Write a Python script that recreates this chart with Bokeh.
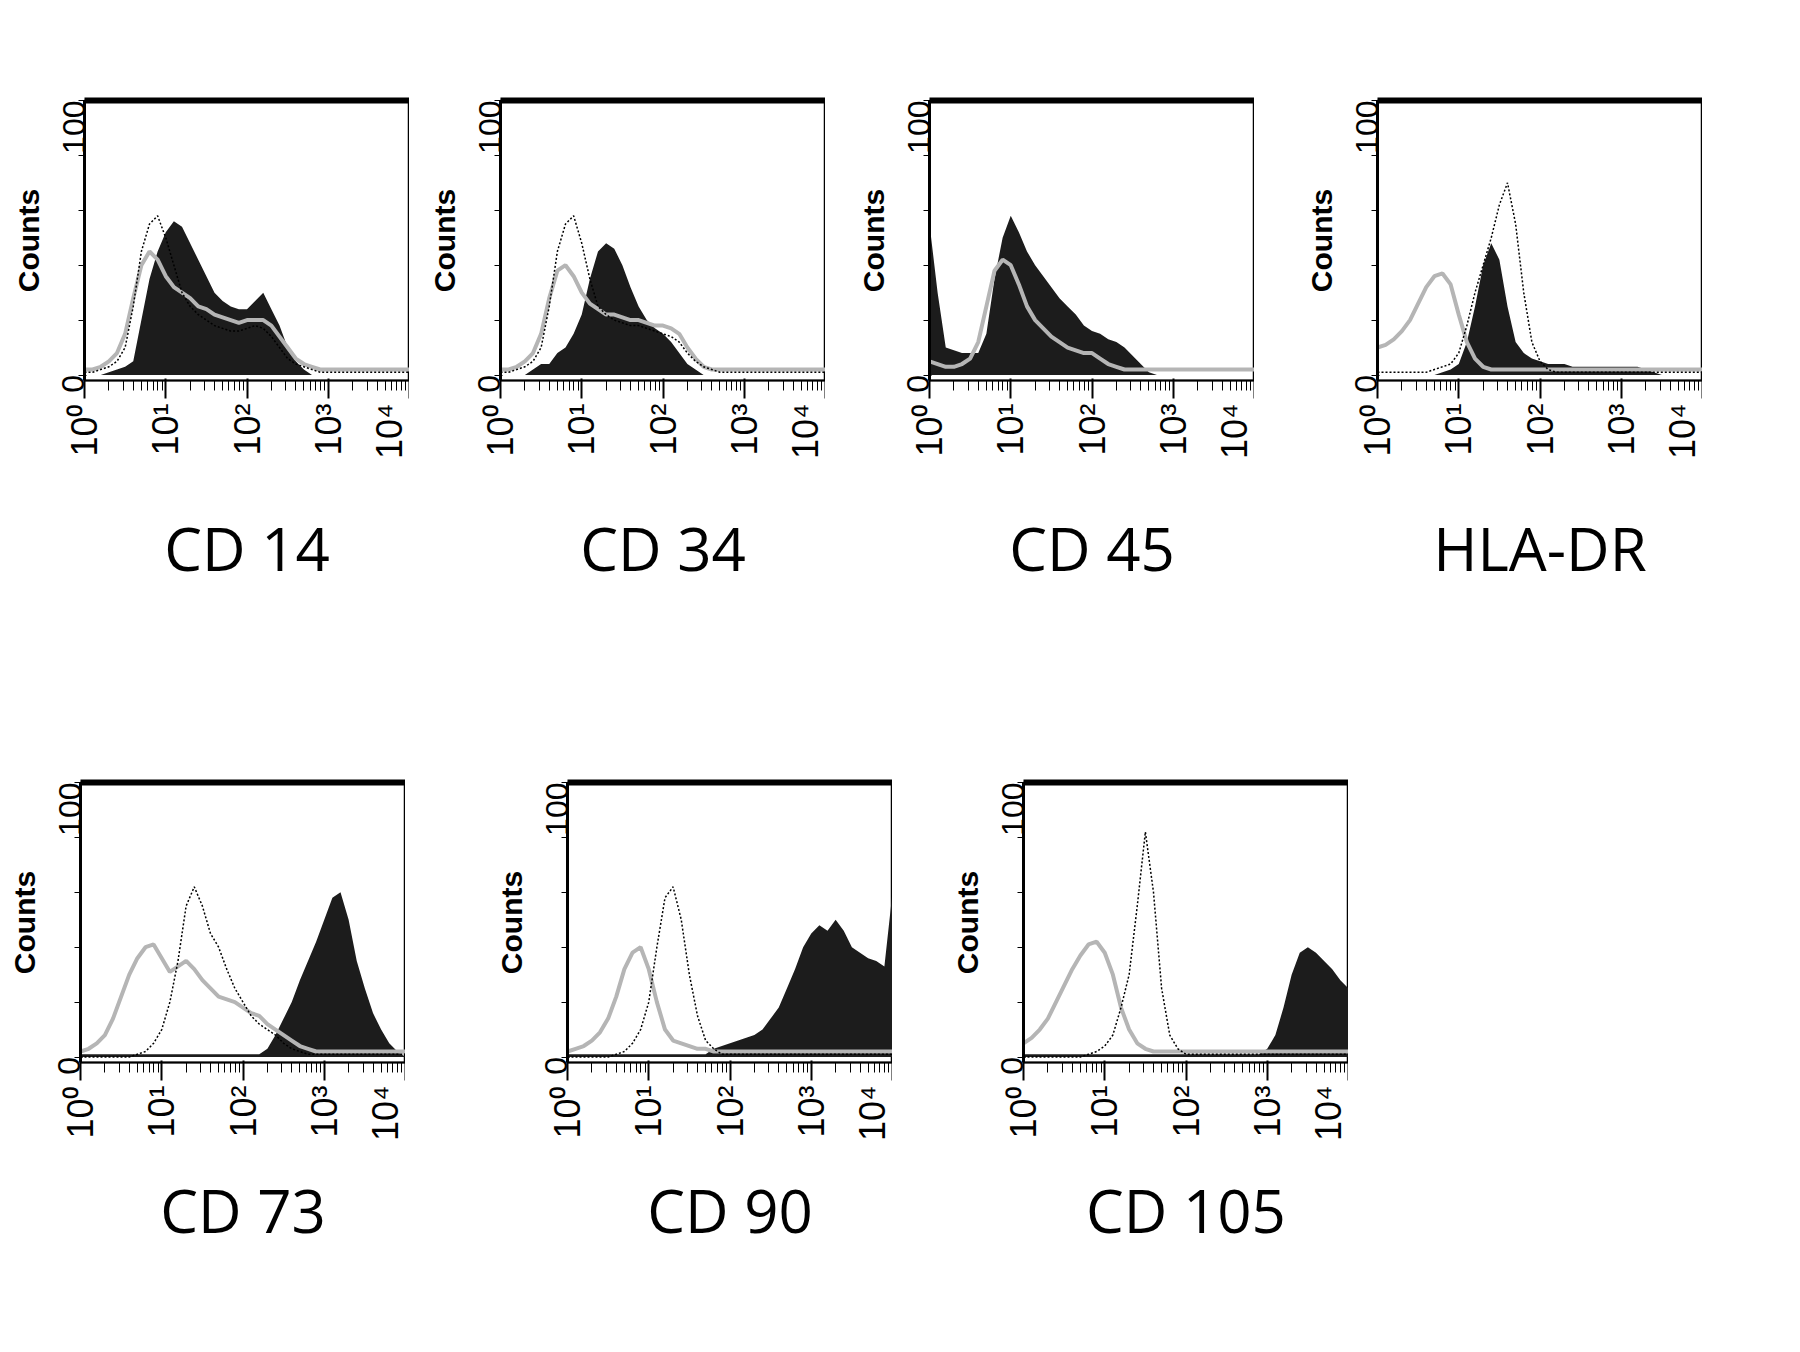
import numpy as np
from bokeh.plotting import figure
from bokeh.layouts import column, row, Spacer
from bokeh.models import FixedTicker, LinearAxis
from bokeh.embed import file_html
from bokeh.resources import INLINE

# bin centres, in decades (10^0 .. 10^4)
decades = np.arange(0, 4.01, 0.1)

names = ["CD 14", "CD 34", "CD 45", "HLA-DR", "CD 73", "CD 90", "CD 105"]

cd14_black = [0,0,0,1,2,3,5,20,35,45,52,56,54,48,42,36,30,27,25,24,24,27,30,24,18,10,5,2] + [0]*13
cd14_grey = [2,2,3,5,8,15,28,40,45,42,36,32,30,28,25,24,22,21,20,19,20,20,20,18,14,10,6,4,3] + [2]*12
cd14_dot = [1,1,2,3,5,10,25,45,55,58,50,40,30,25,22,20,18,17,16,16,17,18,17,14,10,6,4,3,2] + [1]*12

cd34_black = [0,0,0,0,2,4,4,8,10,15,22,35,45,48,46,40,32,25,20,17,15,12,8,4,2] + [0]*16
cd34_grey = [2,2,3,5,8,15,28,38,40,36,30,26,24,22,22,21,20,20,19,18,18,17,15,10,6,3] + [2]*15
cd34_dot = [1,1,2,3,5,10,25,45,55,58,48,35,25,22,20,19,18,18,17,16,15,14,12,8,5,3,2] + [1]*14

cd45_black = [55,30,10,9,8,8,8,15,35,50,58,52,45,40,36,32,28,25,22,18,16,15,13,12,10,7,4,1] + [0]*13
cd45_grey = [5,4,3,3,4,6,12,25,38,42,40,33,25,20,17,14,12,10,9,8,8,6,4,3] + [2]*17
cd45_dot = None

hla_black = [0,0,0,0,0,0,0,0,1,2,4,12,25,40,48,42,25,12,8,6,5,4,4,4,3,3,3,3,3,3,3,3,3,2,1,0,0,0,0,0,0]
hla_grey = [10,11,13,16,20,26,32,36,37,33,22,12,6,3] + [2]*27
hla_dot = [1,1,1,1,1,1,1,2,3,4,8,18,30,40,50,62,70,55,30,12,5,2] + [1]*19

cd73_black = [1]*23 + [3,8,14,20,28,35,42,50,58,60,50,35,25,16,10,5,2,0]
cd73_grey = [2,3,5,8,14,22,30,36,40,41,36,31,33,35,32,28,25,22,21,20,18,16,15,12,10,8,6,4,3] + [2]*12
cd73_dot = [0,0,0,0,0,0,0,1,2,5,10,20,35,55,62,55,45,40,32,25,20,15,12,10,8,5,3,2] + [1]*13

cd90_black = [1]*18 + [3,4,5,6,7,8,10,14,18,25,32,40,45,48,46,50,46,40,38,36,35,33,60]
cd90_grey = [2,3,4,6,9,14,22,32,38,40,32,20,10,6,5,4,3,3] + [2]*23
cd90_dot = [0,0,0,0,0,0,1,2,5,10,20,40,58,62,50,30,15,6,3] + [1]*22

cd105_black = [1]*30 + [3,8,18,30,38,40,38,35,32,28,25]
cd105_grey = [5,7,10,14,20,26,32,37,41,42,38,30,18,10,5,3] + [2]*25
cd105_dot = [0,0,0,0,0,0,0,0,1,2,4,8,18,30,55,82,60,25,8,3] + [1]*21

series = [
    (cd14_black, cd14_grey, cd14_dot),
    (cd34_black, cd34_grey, cd34_dot),
    (cd45_black, cd45_grey, cd45_dot),
    (hla_black, hla_grey, hla_dot),
    (cd73_black, cd73_grey, cd73_dot),
    (cd90_black, cd90_grey, cd90_dot),
    (cd105_black, cd105_grey, cd105_dot),
]

x_ticks = [1, 10, 100, 1000, 10000]
x_labels = {1: "10⁰", 10: "10¹", 100: "10²", 1000: "10³", 10000: "10⁴"}
minor = [m * 10**k for k in range(4) for m in range(2, 10)]


def panel(name, black, grey, dot, top_border, bottom_border, standoff):
    p = figure(x_axis_type="log", x_range=(1, 10000), y_range=(-2, 100),
               frame_width=325, frame_height=280, min_border_left=80,
               min_border_right=0, min_border_top=top_border,
               min_border_bottom=bottom_border,
               output_backend="svg", toolbar_location=None)
    p.grid.visible = False
    p.outline_line_color = "black"
    p.outline_line_width = 1.5
    x = 10 ** decades
    p.varea(x=x, y1=0, y2=black, fill_color="#1c1c1c")
    p.line(x, grey, line_color="#b5b5b5", line_width=4)
    if dot is not None:
        p.line(x, dot, line_color="black", line_width=1.5, line_dash="2 2")

    p.xaxis.ticker = FixedTicker(ticks=x_ticks, minor_ticks=minor)
    p.xaxis.major_label_overrides = x_labels
    p.xaxis.major_label_orientation = np.pi / 2
    p.xaxis.major_label_text_font = "Liberation Sans"
    p.xaxis.major_label_text_font_size = "36px"
    p.xaxis.major_label_text_color = "black"
    p.xaxis.major_tick_out = 18
    p.xaxis.minor_tick_out = 10
    p.xaxis.major_tick_line_width = 2
    p.xaxis.axis_line_width = 2
    p.xaxis.axis_label = name
    p.xaxis.axis_label_text_font = "Open Sans"
    p.xaxis.axis_label_text_font_style = "normal"
    p.xaxis.axis_label_text_font_size = "60px"
    p.xaxis.axis_label_text_color = "black"
    p.xaxis.axis_label_standoff = standoff

    p.yaxis.ticker = FixedTicker(ticks=[0, 100], minor_ticks=[20, 40, 60, 80])
    p.yaxis.major_label_orientation = np.pi / 2
    p.yaxis.major_label_text_font = "Liberation Sans"
    p.yaxis.major_label_text_font_size = "32px"
    p.yaxis.major_label_text_color = "black"
    p.yaxis.axis_line_width = 3
    p.yaxis.major_tick_out = 6
    p.yaxis.minor_tick_out = 6
    p.yaxis.axis_label = "Counts"
    p.yaxis.axis_label_text_font = "Liberation Sans"
    p.yaxis.axis_label_text_font_style = "bold"
    p.yaxis.axis_label_text_font_size = "30px"
    p.yaxis.axis_label_text_color = "black"
    p.yaxis.axis_label_standoff = 4

    top = LinearAxis(ticker=FixedTicker(ticks=[]), axis_line_width=6,
                     major_label_text_font_size="0px")
    p.add_layout(top, "above")
    return p


figs = []
for i, (name, (b, g, d)) in enumerate(zip(names, series)):
    if i < 4:
        figs.append(panel(name, b, g, d, 100, 270, 45))
    else:
        figs.append(panel(name, b, g, d, 132, 150, 25))

row1 = row(Spacer(width=4), figs[0], Spacer(width=11), figs[1], Spacer(width=24),
           figs[2], Spacer(width=43), figs[3])
row2 = row(figs[4], Spacer(width=82), figs[5], Spacer(width=51), figs[6])
layout = column(row1, row2)

open("out.html", "w").write(file_html(layout, INLINE))
